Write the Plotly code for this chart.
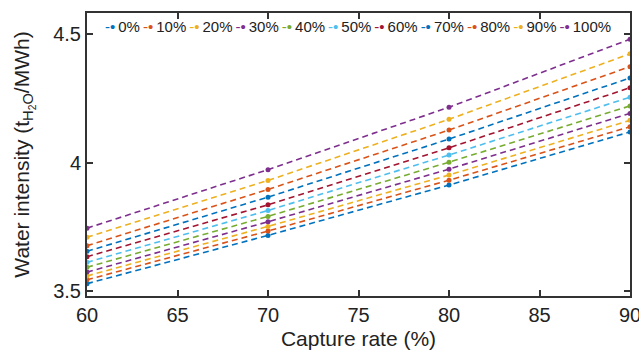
import plotly.graph_objects as go

capture_rate = [60, 70, 80, 90]
series_names = ["0%", "10%", "20%", "30%", "40%", "50%", "60%", "70%", "80%", "90%", "100%"]
water_0 = [3.529, 3.717, 3.913, 4.120]
water_10 = [3.544, 3.734, 3.932, 4.140]
water_20 = [3.559, 3.752, 3.952, 4.165]
water_30 = [3.574, 3.770, 3.975, 4.192]
water_40 = [3.593, 3.791, 4.002, 4.221]
water_50 = [3.612, 3.814, 4.030, 4.255]
water_60 = [3.634, 3.836, 4.058, 4.292]
water_70 = [3.655, 3.866, 4.092, 4.330]
water_80 = [3.677, 3.896, 4.127, 4.374]
water_90 = [3.710, 3.931, 4.169, 4.424]
water_100 = [3.745, 3.973, 4.216, 4.481]
all_series = [water_0, water_10, water_20, water_30, water_40, water_50,
              water_60, water_70, water_80, water_90, water_100]

colors = ["#0072BD", "#D95319", "#EDB120", "#7E2F8E", "#77AC30", "#4DBEEE",
          "#A2142F", "#0072BD", "#D95319", "#EDB120", "#7E2F8E"]

font = "Liberation Sans, Arial, Helvetica, sans-serif"
fig = go.Figure()
for name, vals, c in zip(series_names, all_series, colors):
    fig.add_trace(go.Scatter(
        x=capture_rate, y=vals, name=name, mode="lines+markers",
        line=dict(color=c, width=1.6, dash="6px,4px"),
        marker=dict(color=c, size=5, symbol="circle"),
        showlegend=False,
    ))

# custom compact legend
parts = []
for name, c in zip(series_names, colors):
    parts.append(f"<span style='color:{c}'>-•</span>\u2009{name}")
fig.add_annotation(
    xref="paper", yref="paper", x=0.03, y=0.952, xanchor="left", yanchor="middle",
    text="\u2009".join(parts), showarrow=False,
    font=dict(family=font, size=15, color="#222"),
)

axis_common = dict(
    showline=True, linecolor="#333", linewidth=2, mirror="ticks",
    ticks="inside", ticklen=6, tickwidth=2, tickcolor="#333",
    showgrid=False, zeroline=False, automargin=False,
    tickfont=dict(family=font, size=20, color="#222"),
)
fig.update_xaxes(range=[60, 90], tickvals=[60, 65, 70, 75, 80, 85, 90],
                 ticklabeloverflow="allow",
                 title=dict(text="Capture rate (%)", font=dict(family=font, size=21, color="#222"), standoff=6),
                 **axis_common)
fig.update_yaxes(range=[3.481, 4.583], tickvals=[3.5, 4, 4.5], ticktext=["3.5", "4", "4.5"],
                 title=dict(text="Water intensity (t<sub>H<sub>2</sub>O</sub>/MWh)",
                            font=dict(family=font, size=21, color="#222"), standoff=6),
                 **axis_common)
fig.update_layout(
    width=639, height=350,
    margin=dict(l=87, r=9, t=13, b=54),
    paper_bgcolor="white", plot_bgcolor="white",
)
fig.layout.yaxis.title.standoff = 18
fig.write_html("out.html")
